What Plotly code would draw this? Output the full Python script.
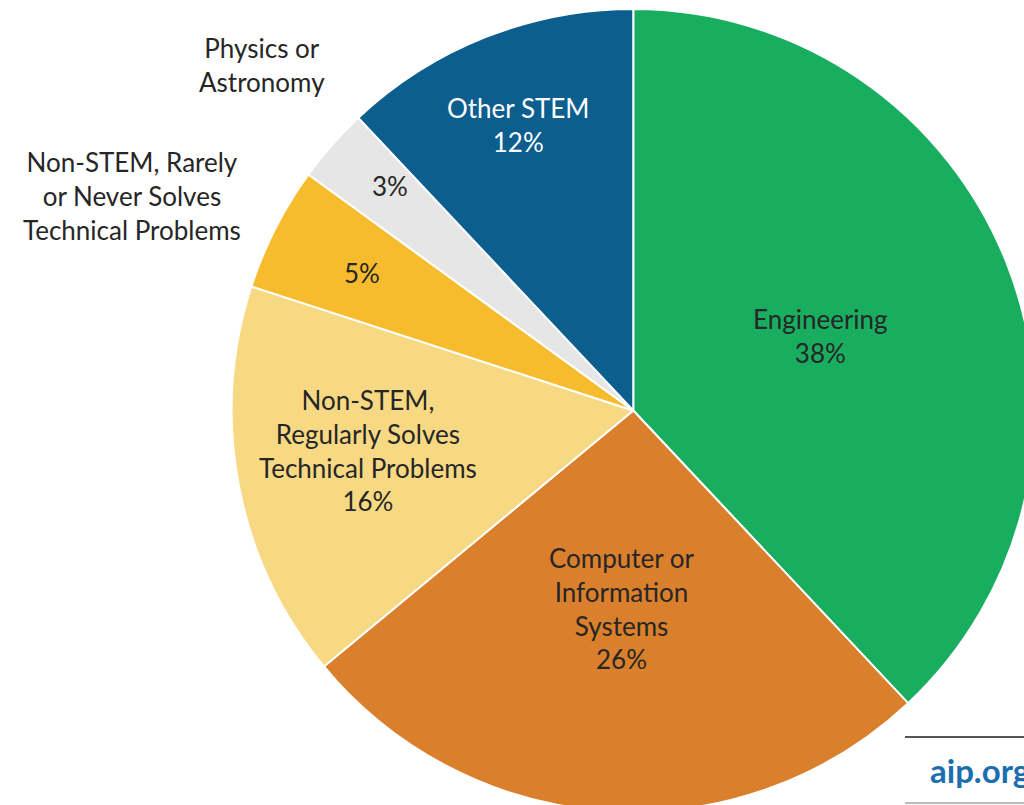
import plotly.graph_objects as go

categories = ["Engineering", "Computer or Information Systems",
              "Non-STEM, Regularly Solves Technical Problems",
              "Non-STEM, Rarely or Never Solves Technical Problems",
              "Physics or Astronomy", "Other STEM"]
values = [38, 26, 16, 5, 3, 12]
colors = ["#19AD5F", "#DA7F2B", "#F8D983", "#F6BC2E", "#E6E6E6", "#0C5E8E"]

# label text shown inside / outside (line-broken as in the reference)
inside_labels = ["Engineering", "Computer or<br>Information<br>Systems",
                 "Non-STEM,<br>Regularly Solves<br>Technical Problems", "", "", "Other STEM"]
outside_labels = ["", "", "", "Non-STEM, Rarely<br>or Never Solves<br>Technical Problems",
                  "Physics or<br>Astronomy", ""]

W, H = 1035, 812
FONT = "Lato, 'Open Sans', sans-serif"
FS = 26

fig = go.Figure()
fig.add_trace(go.Pie(
    labels=categories, values=values, sort=False, direction="clockwise", rotation=0,
    marker=dict(colors=colors, line=dict(color="white", width=2)),
    textinfo="none", hoverinfo="label+percent",
    domain=dict(x=[(633 - 401.5) / W, 1.0], y=[0, 803 / H]),
    showlegend=False,
))

def px(x, y):
    return x / W, 1 - y / H

# text anchors (pixel centres) for each slice's inside text and outside label
inside_pos = [(820, 336), (622, 608), (368, 451), (362, 273), (390, 186), (518, 125)]
outside_pos = [None, None, None, (132, 196), (262, 65), None]
text_colors = ["#262626", "#262626", "#262626", "#262626", "#262626", "white"]

for i, v in enumerate(values):
    t = (inside_labels[i] + "<br>" if inside_labels[i] else "") + f"{v}%"
    x, y = px(*inside_pos[i])
    fig.add_annotation(x=x, y=y, xref="paper", yref="paper", text=t, showarrow=False,
                       font=dict(family=FONT, size=FS, color=text_colors[i]),
                       align="center", xanchor="center", yanchor="middle")
    if outside_pos[i]:
        x, y = px(*outside_pos[i])
        fig.add_annotation(x=x, y=y, xref="paper", yref="paper", text=outside_labels[i],
                           showarrow=False, font=dict(family=FONT, size=FS, color="#262626"),
                           align="center", xanchor="center", yanchor="middle")

# aip.org footer
x, y = px(928, 770)
fig.add_annotation(x=x, y=y, xref="paper", yref="paper", text="<b>aip.org</b>", showarrow=False,
                   font=dict(family=FONT, size=33, color="#1B6FAE"), xanchor="left", yanchor="middle")
fig.add_shape(type="line", xref="paper", yref="paper", x0=905 / W, x1=1, y0=1 - 737 / H, y1=1 - 737 / H,
              line=dict(color="#555555", width=2))
fig.add_shape(type="line", xref="paper", yref="paper", x0=905 / W, x1=1, y0=1 - 803 / H, y1=1 - 803 / H,
              line=dict(color="#BBBBBB", width=2))

fig.update_layout(width=W, height=H, margin=dict(l=0, r=0, t=0, b=0),
                  paper_bgcolor="white", plot_bgcolor="white")

fig.write_html("out.html", config={"displayModeBar": False},
               post_script="document.documentElement.style.overflow='hidden';document.body.style.overflow='hidden';document.body.style.margin='0';")
